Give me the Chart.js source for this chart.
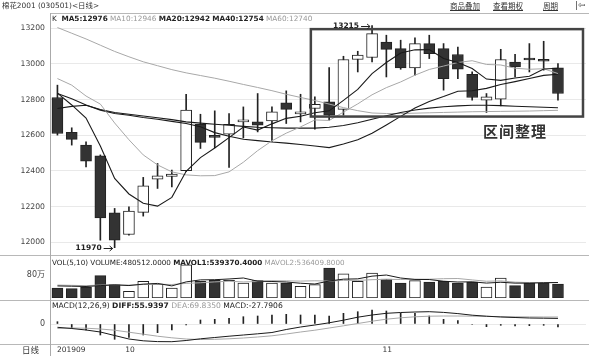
<!DOCTYPE html>
<html><head><meta charset="utf-8">
<script src="https://cdn.jsdelivr.net/npm/chart.js@4.4.0/dist/chart.umd.min.js"></script>
<style>
body{margin:0;width:589px;height:356px;background:#fff;position:relative;overflow:hidden;font-family:"DejaVu Sans","Noto Sans CJK SC",sans-serif;color:#222}
canvas{position:absolute;left:0}
.t{position:absolute;white-space:nowrap;font-size:8px;line-height:10px}
.g{color:#999}
.hl{position:absolute;height:1px;background:#b8b8b8}
.u{text-decoration:underline;font-family:"Noto Sans CJK SC",sans-serif;font-size:7.5px;color:#333}
</style></head>
<body>
<canvas id="cMain" width="589" height="256" style="top:0"></canvas>
<canvas id="cVol" width="589" height="44" style="top:256px"></canvas>
<canvas id="cMacd" width="589" height="56" style="top:300px"></canvas>

<div class="t" style="left:2px;top:1px;font-size:7.4px;color:#333;font-family:'DejaVu Sans','Noto Sans CJK SC'">棉花2001 (030501)&lt;日线&gt;</div>
<div class="t u" style="left:450px;top:1px">商品叠加</div>
<div class="t u" style="left:493px;top:1px">查看期权</div>
<div class="t u" style="left:543px;top:1px">周期</div>
<div class="t" style="left:575px;top:0px;font-size:9px;color:#444">|⇦</div>
<div class="hl" style="left:50px;top:13px;width:539px"></div>
<div class="t" style="left:52px;top:14px;font-size:7.3px">K&nbsp; <b>MA5:12976</b> <span class="g">MA10:12946</span> <b>MA20:12942</b> <b>MA40:12754</b> <span class="g">MA60:12740</span></div>
<div class="hl" style="left:0;top:255px;width:589px"></div>
<div class="t" style="left:52px;top:258px;font-size:7.2px">VOL(5,10) VOLUME:480512.0000 <b>MAVOL1:539370.4000</b> <span class="g">MAVOL2:536409.8000</span></div>
<div class="hl" style="left:0;top:300px;width:589px"></div>
<div class="t" style="left:52px;top:301px;font-size:7.6px">MACD(12,26,9) <b>DIFF:55.9397</b> <span class="g">DEA:69.8350</span> MACD:-27.7906</div>
<div class="hl" style="left:0;top:344px;width:589px"></div>
<div class="t" style="left:22px;top:345px;font-size:8.5px;color:#333">日线</div>
<div style="position:absolute;left:50px;top:13px;width:1px;height:343px;background:#aaa"></div>
<div class="t" style="left:483px;top:122px;font-size:15px;line-height:18px;font-weight:bold;color:#333;font-family:'Noto Sans CJK SC';letter-spacing:1px">区间整理</div>

<script>
// ---- data ----
const opens  = [12812,12616,12545,12485,12165,12044,12168,12354,12369,12401,12662,12590,12606,12675,12675,12681,12782,12720,12750,12787,12745,13025,13036,13123,13086,12978,13114,13086,13053,12941,12797,12802,13011,13025,13026,12978];
const closes = [12610,12577,12455,12137,12012,12175,12317,12373,12382,12741,12560,12588,12662,12685,12657,12731,12745,12724,12774,12713,13025,13049,13170,13082,12978,13114,13058,12918,12970,12812,12815,13025,12983,13022,13015,12834];
const highs  = [12881,12642,12563,12490,12190,12199,12364,12442,12405,12830,12718,12737,12722,12759,12834,12759,12849,12830,12815,12980,13043,13071,13215,13161,13133,13146,13161,13114,13095,12955,12834,13082,13054,13114,13127,13002];
const lows   = [12601,12545,12423,12012,11970,12040,12147,12302,12311,12398,12526,12530,12420,12585,12619,12565,12666,12675,12634,12685,12713,12955,13011,12927,12970,12937,13030,12853,12918,12797,12728,12765,12927,12955,12965,12797];
const ma5  = [12836,12770,12697,12540,12358,12271,12219,12203,12252,12398,12475,12529,12587,12646,12629,12664,12695,12707,12726,12737,12796,12857,12946,13008,13061,13079,13080,13030,13008,12974,12915,12908,12921,12931,12972,12976];
const ma10 = [12918,12881,12820,12775,12669,12575,12490,12434,12395,12378,12373,12374,12395,12449,12514,12569,12612,12647,12686,12683,12730,12776,12827,12867,12899,12937,12969,12988,13008,13018,12997,12994,12976,12970,12973,12946];
const ma20 = [12834,12805,12770,12741,12722,12712,12700,12690,12678,12666,12648,12615,12595,12578,12570,12562,12556,12548,12540,12531,12551,12575,12611,12658,12706,12753,12790,12817,12847,12850,12863,12885,12901,12918,12936,12942];
const ma40 = [12750,12762,12768,12745,12728,12718,12708,12698,12688,12675,12668,12662,12656,12650,12645,12642,12640,12640,12640,12645,12655,12670,12690,12710,12728,12742,12752,12760,12765,12768,12768,12766,12763,12760,12757,12754];
const ma60 = [13204,13172,13140,13105,13070,13040,13012,12990,12968,12950,12935,12920,12903,12885,12868,12850,12830,12812,12795,12775,12755,12738,12725,12722,12722,12724,12726,12728,12730,12732,12733,12734,12735,12736,12738,12740];
const volumes = [347000,324000,370000,776000,463000,230000,578000,487000,348000,1158000,578000,612000,612000,522000,602000,522000,522000,403000,463000,1043000,845000,577000,870000,661000,522000,602000,557000,577000,522000,557000,383000,696000,428000,522000,522000,480512];
const mavol1 = [420000,410000,400000,430000,456000,433000,483000,507000,421000,560000,630000,637000,662000,696000,585000,574000,556000,514000,486000,591000,655000,666000,760000,799000,695000,646000,642000,584000,556000,563000,519000,547000,517000,517000,530000,539370];
const mavol2 = [450000,440000,430000,450000,460000,450000,470000,480000,470000,508000,531000,560000,584000,559000,573000,602000,596000,588000,599000,588000,615000,611000,637000,651000,643000,651000,654000,672000,678000,629000,583000,595000,551000,537000,537000,536410];
const diff = [-33,-45,-60,-80,-115,-150,-168,-176,-177,-165,-148,-135,-122,-110,-98,-85,-55,-30,-10,12,38,68,90,107,115,120,123,116,104,88,78,70,65,60,58,56];
const dea  = [-45,-40,-42,-50,-62,-82,-102,-122,-138,-150,-155,-153,-148,-140,-130,-118,-100,-80,-62,-40,-18,5,28,48,62,72,78,80,80,78,76,74,72,71,70,70];
const macdHist = [23,-43,-60,-110,-153,-133,-110,-87,-60,-10,40,47,57,73,80,90,97,90,90,80,107,123,140,130,107,107,80,47,33,-5,-27,-13,-20,-17,-13,-28];
const priceTicks = [12000,12200,12400,12600,12800,13000,13200];
const volTicks = [800000];
const volTickLabels = ['80万'];
const macdTicks = [0];
const dateLabels = ['201909','10','11'];
const dateIndex = [0,5,23];
const boxRange = {x0:17.72, x1:36.75, yLow:12705, yHigh:13195};
const markLabels = [{i:22, v:13215, text:'13215'}, {i:4, v:11970, text:'11970'}];

// ---- chart setup ----
Chart.defaults.font.family = '"DejaVu Sans","Noto Sans CJK SC",sans-serif';
Chart.defaults.animation = false;
const X_MIN = -0.52, X_MAX = 36.96;
const idx = opens.map((_, i) => i);
const up = idx.map(i => closes[i] >= opens[i]);
const pts = arr => arr.map((v, i) => ({x: i, y: v}));

function yAxis(min, max, ticks, labelFn, gridOn, fontSize) {
  return {
    position: 'left', min, max,
    afterFit: s => { s.width = 50; s.paddingTop = 0; s.paddingBottom = 0; },
    afterBuildTicks: s => { s.ticks = ticks.map(v => ({value: v})); },
    ticks: {font: {size: fontSize}, color: '#444', padding: 5, callback: labelFn},
    grid: {display: gridOn, color: '#e9e9e9', drawTicks: false},
    border: {display: false}
  };
}
const xAxis = () => ({type: 'linear', min: X_MIN, max: X_MAX, display: false, offset: false});
const common = {responsive: false, devicePixelRatio: 1, animation: false,
  plugins: {legend: {display: false}, tooltip: {enabled: false}}};

const annot = {
  id: 'annot',
  afterDatasetsDraw(chart) {
    const {ctx, scales: {x, y}} = chart;
    ctx.save();
    ctx.strokeStyle = '#444'; ctx.lineWidth = 2.5;
    const l = x.getPixelForValue(boxRange.x0), r = x.getPixelForValue(boxRange.x1);
    const t = y.getPixelForValue(boxRange.yHigh), b = y.getPixelForValue(boxRange.yLow);
    ctx.strokeRect(l, t, r - l, b - t);
    ctx.fillStyle = '#222'; ctx.strokeStyle = '#222'; ctx.lineWidth = 1;
    ctx.font = 'bold 7.5px "DejaVu Sans"'; ctx.textAlign = 'right'; ctx.textBaseline = 'middle';
    markLabels.forEach(m => {
      const px = x.getPixelForValue(m.i), py = Math.round(y.getPixelForValue(m.v)) + 0.5;
      ctx.fillText(m.text, px - 13, py);
      ctx.beginPath(); ctx.moveTo(px - 11, py); ctx.lineTo(px - 2, py);
      ctx.moveTo(px - 5, py - 2.5); ctx.lineTo(px - 2, py); ctx.lineTo(px - 5, py + 2.5);
      ctx.stroke();
    });
    ctx.restore();
  }
};

new Chart(document.getElementById('cMain'), {
  type: 'bar',
  data: {datasets: [
    {type: 'line', data: pts(ma5), borderColor: '#1a1a1a', borderWidth: 1.1, pointRadius: 0, order: 0},
    {type: 'line', data: pts(ma10), borderColor: '#a8a8a8', borderWidth: 1, pointRadius: 0, order: 0},
    {type: 'line', data: pts(ma20), borderColor: '#1a1a1a', borderWidth: 1.1, pointRadius: 0, order: 0},
    {type: 'line', data: pts(ma40), borderColor: '#1a1a1a', borderWidth: 1.1, pointRadius: 0, order: 0},
    {type: 'line', data: pts(ma60), borderColor: '#a8a8a8', borderWidth: 1, pointRadius: 0, order: 0},
    {type: 'bar', data: idx.map(i => ({x: i, y: [opens[i], closes[i]]})),
      backgroundColor: up.map(u => u ? '#ffffff' : '#333333'), borderColor: '#222', borderWidth: 1,
      borderSkipped: false, grouped: false, barThickness: 11, maxBarThickness: 11, minBarLength: 2, order: 1},
    {type: 'bar', data: idx.map(i => ({x: i, y: [lows[i], highs[i]]})),
      backgroundColor: '#222', borderWidth: 0, grouped: false, barThickness: 1, maxBarThickness: 1, order: 2}
  ]},
  options: Object.assign({}, common, {
    layout: {padding: {top: 22, bottom: 1, left: 0, right: 3}},
    scales: {x: xAxis(), y: yAxis(11929, 13235, priceTicks, v => String(v), true, 7.7)}
  }),
  plugins: [annot]
});

new Chart(document.getElementById('cVol'), {
  type: 'bar',
  data: {datasets: [
    {type: 'line', data: pts(mavol1), borderColor: '#1a1a1a', borderWidth: 1, pointRadius: 0, order: 0},
    {type: 'line', data: pts(mavol2), borderColor: '#a8a8a8', borderWidth: 1, pointRadius: 0, order: 0},
    {type: 'bar', data: pts(volumes), backgroundColor: up.map(u => u ? '#ffffff' : '#333333'),
      borderColor: '#222', borderWidth: 1, borderSkipped: false, grouped: false,
      barThickness: 11, maxBarThickness: 11, order: 1}
  ]},
  options: Object.assign({}, common, {
    layout: {padding: {top: 0, bottom: 2, left: 0, right: 3}},
    scales: {x: xAxis(), y: yAxis(0, 1461000, volTicks, (v, i) => volTickLabels[i], false, 8)}
  })
});

const dates = {
  id: 'dates',
  afterDraw(chart) {
    const {ctx, scales: {x}, chartArea} = chart;
    ctx.save();
    ctx.fillStyle = '#333'; ctx.font = '7.5px "DejaVu Sans"'; ctx.textAlign = 'center'; ctx.textBaseline = 'middle';
    dateLabels.forEach((s, k) => {
      const w = ctx.measureText(s).width;
      const px = Math.max(x.getPixelForValue(dateIndex[k]) + 1, chartArea.left + 7 + w / 2);
      ctx.fillText(s, px, 50);
    });
    ctx.restore();
  }
};

new Chart(document.getElementById('cMacd'), {
  type: 'bar',
  data: {datasets: [
    {type: 'line', data: pts(diff), borderColor: '#1a1a1a', borderWidth: 1, pointRadius: 0, order: 0},
    {type: 'line', data: pts(dea), borderColor: '#a8a8a8', borderWidth: 1, pointRadius: 0, order: 0},
    {type: 'bar', data: pts(macdHist), backgroundColor: '#222', borderWidth: 0, grouped: false,
      barThickness: 1, maxBarThickness: 1, order: 1}
  ]},
  options: Object.assign({}, common, {
    layout: {padding: {top: 1, bottom: 11, left: 0, right: 3}},
    scales: {x: xAxis(), y: yAxis(-210, 230, macdTicks, v => String(v), true, 8)}
  }),
  plugins: [dates]
});
</script>
</body></html>
